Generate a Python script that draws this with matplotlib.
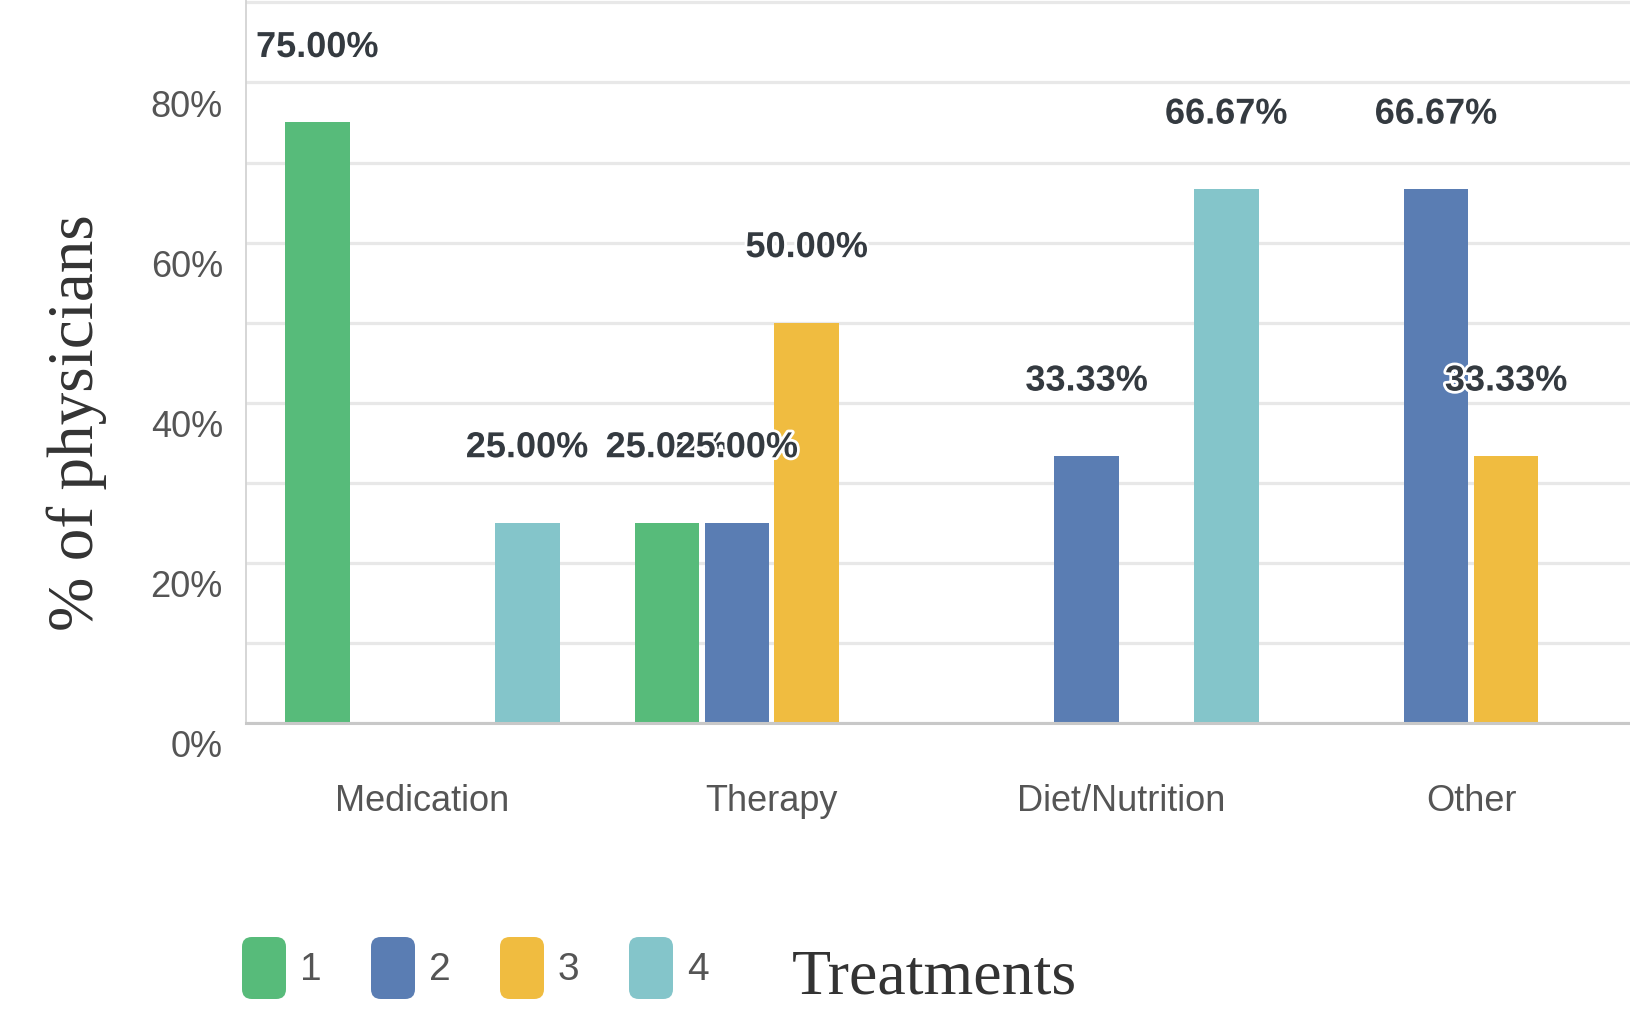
import numpy as np
import matplotlib
matplotlib.use("Agg")
import matplotlib.pyplot as plt
from matplotlib import patheffects
from matplotlib.patches import FancyBboxPatch
from matplotlib.transforms import ScaledTranslation

# Share of physicians per treatment type, split by group 1-4
categories = ['Medication', 'Therapy', 'Diet/Nutrition', 'Other']
series_names = ['1', '2', '3', '4']
group_1 = [75.00, 25.00, 0, 0]
group_2 = [0, 25.00, 33.33, 66.67]
group_3 = [0, 50.00, 0, 33.33]
group_4 = [25.00, 0, 66.67, 0]
y_tick_labels = ['0%', '20%', '40%', '60%', '80%']

colors = ['#57bb7a', '#5a7db3', '#f0bc40', '#84c5ca']
sans = ['Liberation Sans', 'DejaVu Sans']
serif = ['Liberation Serif', 'DejaVu Serif']


def dibujar():
    fig = plt.figure(figsize=(16.31, 10.11), dpi=100)
    ax = fig.add_axes([0.1511, 0.285, 0.849, 0.715])

    series = [group_1, group_2, group_3, group_4]
    x = np.arange(len(categories))
    ancho = 0.185
    paso = 0.2

    for i, (vals, col) in enumerate(zip(series, colors)):
        pos = x + (i - 1.5) * paso
        ax.bar(pos, vals, width=ancho, color=col, zorder=3)
        for xp, v in zip(pos, vals):
            if v == 0:
                continue
            t = ax.annotate(f'{v:.2f}%', (xp, v), xytext=(0, 54),
                            textcoords='offset points', ha='center', va='center',
                            fontsize=26, fontweight='bold', color='#343a40',
                            family=sans, zorder=5)
            t.set_path_effects([patheffects.withStroke(linewidth=4, foreground='white')])

    ax.set_xlim(-0.503, 3.458)
    ax.set_ylim(0, 90.3)

    # gridlines every 10%, labels only every 20%
    ax.set_yticks(np.arange(0, 91, 10))
    ax.set_yticklabels([y_tick_labels[j // 2] if j % 2 == 0 else '' for j in range(10)])
    ax.tick_params(axis='y', length=0, pad=17, labelsize=26, labelcolor='#555555')
    desplaza = ScaledTranslation(0, -0.21, fig.dpi_scale_trans)
    for lab in ax.get_yticklabels():
        lab.set_transform(lab.get_transform() + desplaza)
        lab.set_family(sans)
    ax.grid(axis='y', color='#e8e8e8', linewidth=2.3, zorder=0)
    ax.set_axisbelow(True)

    ax.set_xticks(x)
    ax.set_xticklabels(categories)
    ax.tick_params(axis='x', length=0, pad=44, labelsize=26, labelcolor='#555555')
    for lab in ax.get_xticklabels():
        lab.set_family(sans)

    for s in ['top', 'right']:
        ax.spines[s].set_visible(False)
    ax.spines['left'].set_color('#d0d0d0')
    ax.spines['left'].set_linewidth(1.2)
    ax.spines['bottom'].set_color('#c8c8c8')
    ax.spines['bottom'].set_linewidth(2.2)
    ax.spines['bottom'].set_zorder(4)

    fig.text(0.047, 0.582, '% of physicians', rotation=90, ha='center', va='center',
             fontsize=47, family=serif, color='#333333')

    # legend along the bottom
    W, H = 1631, 1011
    for i, (nombre, col) in enumerate(zip(series_names, colors)):
        x0 = 242 + i * 129
        caja = FancyBboxPatch((x0 / W, (H - 999) / H), 44 / W, 62 / H,
                              boxstyle='round,pad=0,rounding_size=0.006',
                              transform=fig.transFigure, facecolor=col,
                              edgecolor='none', mutation_aspect=W / H)
        fig.patches.append(caja)
        fig.text((x0 + 58) / W, (H - 970) / H, nombre, ha='left', va='center',
                 fontsize=28, color='#555555', family=sans)

    fig.text(934 / W, (H - 978) / H, 'Treatments', ha='center', va='center',
             fontsize=46, family=serif, color='#333333')

    fig.savefig('out.png', dpi=100)


if __name__ == '__main__':
    dibujar()
